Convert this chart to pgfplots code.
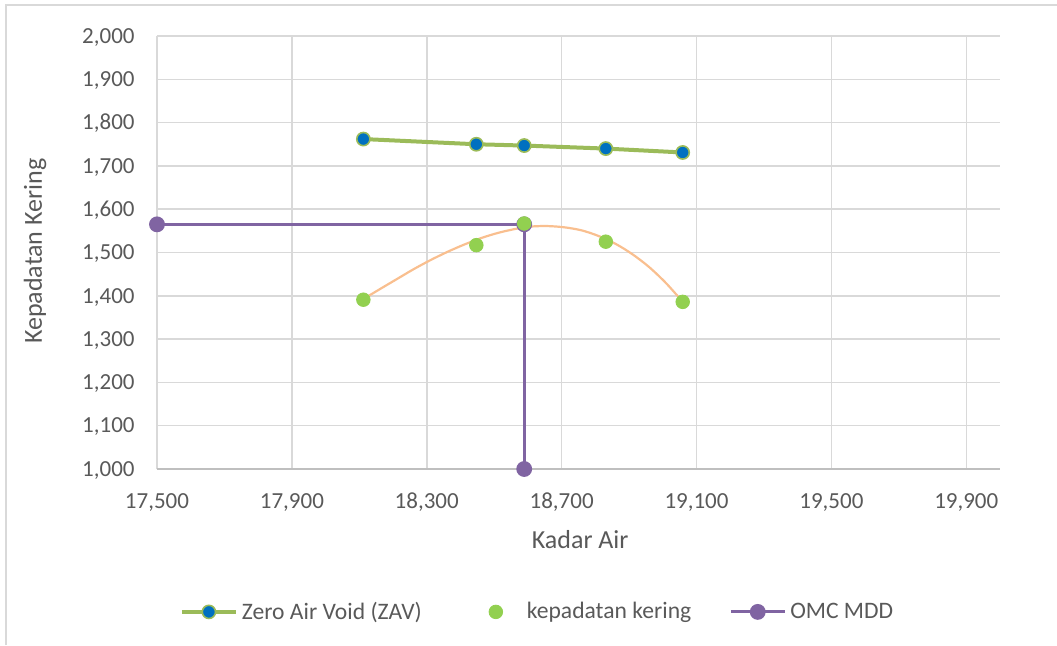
\documentclass[border=0pt]{standalone}
\usepackage{pgfplots}
\pgfplotsset{compat=1.18}
\usepackage{fontspec}
\setmainfont{Carlito}
\definecolor{txt}{HTML}{595959}
\definecolor{gridc}{HTML}{D9D9D9}
\definecolor{axc}{HTML}{BFBFBF}
\definecolor{zavg}{HTML}{9BBB59}
\definecolor{zavb}{HTML}{0070C0}
\definecolor{kep}{HTML}{92D050}
\definecolor{trend}{HTML}{F9BF8F}
\definecolor{omc}{HTML}{8064A2}
\pgfplotsset{kepimg/.style={legend image code/.code={\path[draw=none,fill=none] (0pt,0pt) (31.5pt,0pt); \draw[##1] plot coordinates {(18pt,0pt)};}}}
\begin{document}
\begin{tikzpicture}
\path[use as bounding box] (0,0) rectangle (528.5pt,322.5pt);
\draw[gridc, line width=0.75pt] (3pt,0pt) -- (3pt,320pt) -- (528.5pt,320pt);
\begin{axis}[
  at={(78.5pt,88pt)}, anchor=south west,
  width=421.5pt, height=216.5pt, scale only axis,
  xmin=17500, xmax=20000, ymin=1000, ymax=2000,
  xtick={17500,17900,18300,18700,19100,19500,19900},
  ytick={1000,1100,1200,1300,1400,1500,1600,1700,1800,1900,2000},
  scaled ticks=false,
  grid=major, major grid style={gridc, line width=0.75pt},
  axis x line*=bottom, axis y line*=left,
  x axis line style={axc, line width=0.75pt, -},
  y axis line style={draw=none},
  major tick length=0pt,
  tick label style={font=\fontsize{11.5}{13}\selectfont, text=txt, inner sep=0pt},
  xticklabel style={anchor=base, yshift=-19.5pt},
  yticklabel style={anchor=base east, xshift=-11pt, yshift=-3.6pt},
  /pgf/number format/.cd, 1000 sep={,}, assume math mode=true, /pgfplots/.cd,
  xlabel={Kadar Air}, ylabel={Kepadatan Kering},
  label style={font=\fontsize{13}{15}\selectfont, text=txt},
  xlabel style={at={(axis description cs:0.502,-0.164)}, anchor=center},
  ylabel style={at={(axis description cs:-0.1447,0.503)}, anchor=center},
  clip=false,
  legend image code/.code={\draw[mark repeat=2,mark phase=2,#1] plot coordinates {(0pt,0pt) (13.5pt,0pt) (27pt,0pt)};},
  legend columns=3,
  legend style={at={(axis description cs:0.4526,-0.330)}, anchor=center, draw=none, fill=none,
    font=\fontsize{11.8}{14}\selectfont, text=txt,
    /tikz/every even column/.append style={column sep=17pt}},
]
% OMC MDD (drawn first, legend entry added later)
\addplot[omc, line width=1.5pt, mark=*, mark size=3.2pt, mark options={fill=omc, draw=omc}, forget plot]
  coordinates {(17500,1565) (18589,1565) (18589,1000)};
% Zero Air Void
\addplot[zavg, line width=2pt, mark=*, mark size=3.3pt, mark options={fill=zavb, draw=zavg, line width=0.8pt}]
  coordinates {(18112,1762) (18447,1750) (18589,1747) (18831,1740) (19059,1731)};
\addlegendentry{Zero Air Void (ZAV)}
% kepadatan kering
\addplot[only marks, mark=*, mark size=3.4pt, mark options={fill=kep, draw=kep}, kepimg]
  coordinates {(18112,1391) (18447,1517) (18589,1567) (18831,1525) (19059,1386)};
\addlegendentry{kepadatan kering}
% polynomial trendline of kepadatan kering
\addplot[trend, line width=1.1pt, smooth, forget plot]
  coordinates {(18111,1392) (18160,1415) (18210,1438) (18260,1461) (18310,1482) (18360,1501)
  (18410,1518) (18460,1533) (18510,1545) (18560,1554) (18610,1560) (18660,1561) (18710,1558)
  (18760,1551) (18810,1538) (18860,1520) (18910,1496) (18960,1466) (19010,1429) (19059,1386)};
\addlegendimage{omc, line width=1.5pt, mark=*, mark size=3.2pt, mark options={fill=omc, draw=omc}}
\addlegendentry{OMC MDD}
\end{axis}
\end{tikzpicture}
\end{document}
